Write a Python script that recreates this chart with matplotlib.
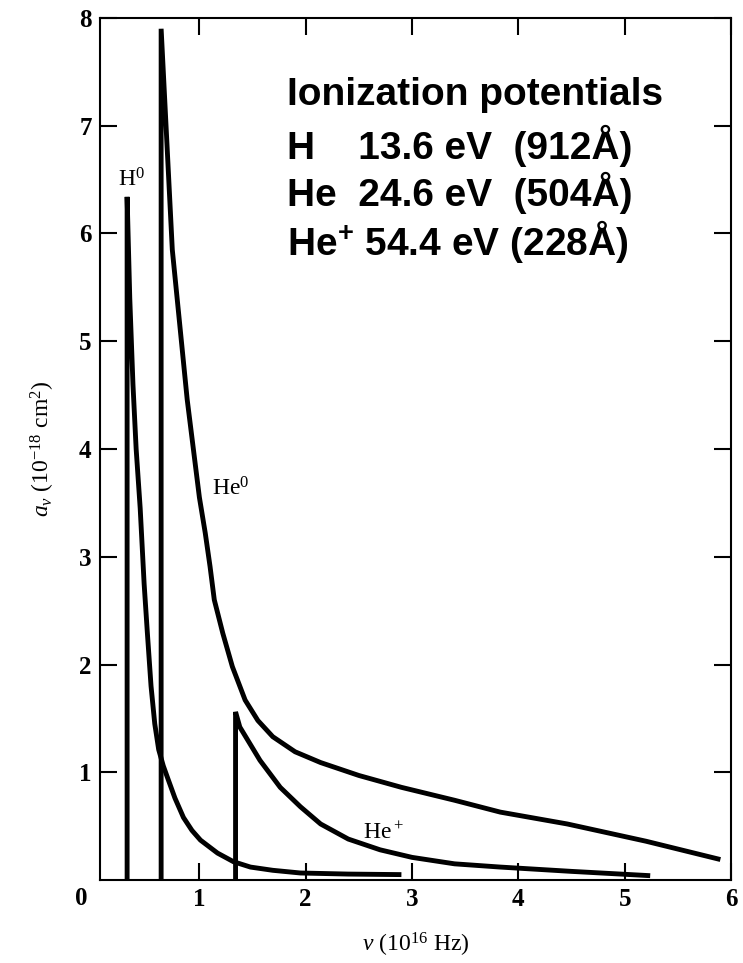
import numpy as np
import matplotlib.pyplot as plt

plt.rcParams['mathtext.fontset'] = 'custom'
plt.rcParams['mathtext.rm'] = 'Liberation Serif'
plt.rcParams['mathtext.it'] = 'Liberation Serif:italic'
plt.rcParams['mathtext.bf'] = 'Liberation Serif:bold'
plt.rcParams['mathtext.sf'] = 'Liberation Sans:bold'

# cross-sections: nu in 1e16 Hz, a_nu in 1e-18 cm^2
h_nu = [0.32, 0.32, 0.345, 0.375, 0.405, 0.443, 0.48, 0.51, 0.545, 0.58, 0.617,
        0.66, 0.70, 0.77, 0.85, 0.93, 1.01, 1.17, 1.32, 1.48, 1.69, 1.95, 2.4, 2.9]
h_a = [0.0, 6.34, 5.4, 4.6, 4.0, 3.45, 2.75, 2.3, 1.8, 1.45, 1.21,
       1.06, 0.95, 0.76, 0.58, 0.46, 0.37, 0.25, 0.17, 0.12, 0.09, 0.065, 0.055, 0.05]

he_nu = [0.64, 0.64, 0.745, 0.885, 1.00, 1.055, 1.10, 1.14, 1.22, 1.31, 1.43,
         1.55, 1.69, 1.9, 2.14, 2.5, 2.9, 3.4, 3.83, 4.46, 5.2, 5.9]
he_a = [0.0, 7.9, 5.85, 4.46, 3.55, 3.22, 2.91, 2.60, 2.29, 1.98, 1.67,
        1.48, 1.33, 1.19, 1.09, 0.97, 0.86, 0.74, 0.63, 0.52, 0.36, 0.19]

hep_nu = [1.34, 1.34, 1.38, 1.57, 1.76, 1.95, 2.14, 2.4, 2.7, 3.0, 3.4, 3.83, 4.5, 5.24]
hep_a = [0.0, 1.56, 1.42, 1.11, 0.86, 0.68, 0.52, 0.38, 0.28, 0.21, 0.15, 0.12, 0.08, 0.04]

x_ticks = [1, 2, 3, 4, 5, 6]
y_ticks = [1, 2, 3, 4, 5, 6, 7, 8]

info_lines = ["Ionization potentials",
              "H    13.6 eV  (912Å)",
              "He  24.6 eV  (504Å)",
              r"He$^{\mathsf{+}}$ 54.4 eV (228Å)"]

fig = plt.figure(figsize=(7.43, 9.63), dpi=100)
ax = fig.add_axes([100/743, 83/963, 631/743, 862/963])

for xs, ys in [(h_nu, h_a), (he_nu, he_a), (hep_nu, hep_a)]:
    ax.plot(xs, ys, color='black', lw=3.5, solid_joinstyle='miter', solid_capstyle='butt')

ax.set_xlim(0.065, 6.0)
ax.set_ylim(0, 8)
ax.set_xticks(x_ticks)
ax.set_yticks(y_ticks)
for s in ax.spines.values():
    s.set_linewidth(1.5)
ax.tick_params(direction='in', length=12.5, width=1.5, top=True, right=True, pad=6)
for lab in ax.get_xticklabels() + ax.get_yticklabels():
    lab.set_fontfamily('Liberation Serif')
    lab.set_fontweight('bold')
    lab.set_fontsize(18)
ax.text(-0.029, -0.021, '0', transform=ax.transAxes, ha='center', va='center',
        family='Liberation Serif', weight='bold', fontsize=18)

# curve labels
ax.text(0.36, 6.5, r'H$^0$', ha='center', va='center', family='Liberation Serif', fontsize=17)
ax.text(1.29, 3.63, r'He$^0$', ha='center', va='center', family='Liberation Serif', fontsize=17)
ax.text(2.73, 0.43, r'He$^+$', ha='center', va='center', family='Liberation Serif', fontsize=17)

ax.set_xlabel(r'$\nu$ (10$^{16}$ Hz)', family='Liberation Serif', fontsize=17, labelpad=14)
ax.set_ylabel(r'$a_\nu$ (10$^{-18}$ cm$^2$)', family='Liberation Serif', fontsize=17, labelpad=16)

for i, line in enumerate(info_lines):
    ax.text(0.296, 0.931 - i * 0.0545, line, transform=ax.transAxes, ha='left', va='top',
            family='Liberation Sans', weight='bold', fontsize=28)

fig.savefig('out.png', dpi=100)
